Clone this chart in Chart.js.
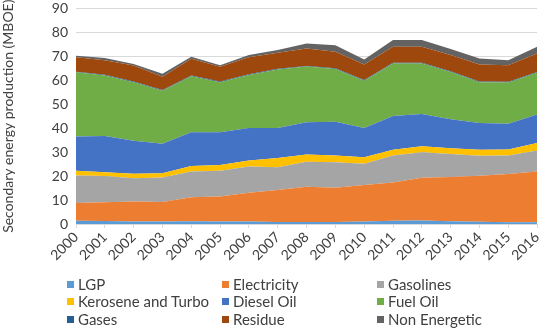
<!DOCTYPE html>
<html>
<head>
<meta charset="utf-8">
<script src="https://cdn.jsdelivr.net/npm/chart.js@4.4.1/dist/chart.umd.min.js"></script>
<style>
  html, body { margin: 0; padding: 0; background: #fff; overflow: hidden; }
  #wrap { position: relative; width: 550px; height: 329px; overflow: hidden; }
  #c { position: absolute; left: 0; top: -8px; }
  #legend { position: absolute; left: 0; top: 0; width: 550px; height: 329px; pointer-events: none;
            font-family: Lato, "Liberation Sans", sans-serif; font-size: 15px; color: #404040; }
  .item { position: absolute; display: flex; align-items: center; white-space: nowrap; }
  .box { width: 7px; height: 7px; margin-right: 4px; }
</style>
</head>
<body>
<div id="wrap">
  <canvas id="c" width="550" height="337"></canvas>
  <div id="legend"></div>
</div>
<script>
const years = ["2000","2001","2002","2003","2004","2005","2006","2007","2008","2009","2010","2011","2012","2013","2014","2015","2016"];
const seriesNames = ["LGP","Electricity","Gasolines","Kerosene and Turbo","Diesel Oil","Fuel Oil","Gases","Residue","Non Energetic"];
const lgp         = [1.4,1.3,1.0,1.0,1.1,1.0,1.0,0.8,0.8,0.8,1.0,1.4,1.5,1.2,0.9,0.7,0.7];
const electricity = [7.4,7.8,8.4,8.2,10.1,10.5,12.0,13.4,14.7,14.3,15.3,15.9,17.8,18.4,19.2,20.2,21.2];
const gasolines   = [11.4,10.9,9.7,10.2,10.7,10.7,11.0,9.5,10.5,10.7,8.8,11.3,10.7,9.6,8.4,7.7,8.8];
const kerosene    = [2.0,1.6,1.9,1.8,2.3,2.4,2.5,3.8,3.0,2.8,2.8,2.4,2.5,2.4,2.5,2.5,3.1];
const dieselOil   = [14.3,15.1,13.8,12.3,14.1,13.7,13.6,12.6,13.5,14.1,12.2,14.1,13.4,12.1,11.2,10.8,11.9];
const fuelOil     = [26.8,25.3,24.4,22.1,23.4,20.9,22.1,24.4,23.2,22.0,19.7,21.9,21.1,19.8,17.0,17.2,17.4];
const gases       = [0.3,0.3,0.3,0.3,0.3,0.3,0.3,0.3,0.3,0.3,0.3,0.3,0.3,0.3,0.3,0.3,0.3];
const residue     = [6.0,6.1,6.7,5.6,7.0,6.1,7.1,6.7,7.3,6.9,6.5,6.7,6.7,6.7,7.1,6.9,7.8];
const nonEnergetic= [0.6,0.9,0.6,1.2,0.8,0.7,0.9,1.1,2.0,2.7,2.1,2.8,2.8,2.5,2.5,2.1,2.8];
const yTicks = [0,10,20,30,40,50,60,70,80,90];

const colors = ["#5B9BD5","#ED7D31","#A5A5A5","#FFC000","#4472C4","#70AD47","#255E91","#9E480E","#636363"];
const values = [lgp, electricity, gasolines, kerosene, dieselOil, fuelOil, gases, residue, nonEnergetic];

const FONT = "Lato, 'Liberation Sans', sans-serif";

const datasets = values.map((v, i) => ({
  label: seriesNames[i],
  data: v,
  backgroundColor: colors[i],
  borderColor: colors[i],
  borderWidth: 0,
  pointRadius: 0,
  tension: 0,
  fill: i === 0 ? 'origin' : '-1'
}));

new Chart(document.getElementById('c'), {
  type: 'line',
  data: { labels: years, datasets },
  options: {
    responsive: false,
    animation: false,
    layout: { padding: { top: 0, right: 5, bottom: 62, left: 0 } },
    plugins: { legend: { display: false }, tooltip: { enabled: false } },
    scales: {
      x: {
        offset: false,
        grid: { display: true, drawOnChartArea: false, color: '#d9d9d9', tickLength: 4, drawTicks: true },
        border: { display: true, color: '#d9d9d9' },
        ticks: { color: '#404040', font: { family: FONT, size: 14 }, minRotation: 45, maxRotation: 45, autoSkip: false, padding: 1 },
        afterFit: s => { s.height = 43; }
      },
      y: {
        stacked: true,
        min: 0, max: 90,
        afterBuildTicks: s => { s.ticks = yTicks.map(v => ({ value: v })); },
        grid: { color: '#d9d9d9', drawTicks: false },
        border: { display: false },
        ticks: { color: '#404040', font: { family: FONT, size: 14 }, padding: 8 },
        title: { display: true, text: 'Secondary energy production (MBOE)', color: '#404040', font: { family: FONT, size: 14 }, padding: { top: 0, bottom: 4 } },
        afterFit: s => { s.width = 76; }
      }
    }
  }
});

// HTML legend (3 columns)
const legend = document.getElementById('legend');
const colX = [67, 222, 377];
const rowY = [284, 301, 319];
seriesNames.forEach((name, i) => {
  const d = document.createElement('div');
  d.className = 'item';
  d.style.left = colX[i % 3] + 'px';
  d.style.top = (rowY[Math.floor(i / 3)] - 9) + 'px';
  d.style.height = '18px';
  const b = document.createElement('span');
  b.className = 'box';
  b.style.background = colors[i];
  const t = document.createElement('span');
  t.textContent = name;
  d.appendChild(b); d.appendChild(t);
  legend.appendChild(d);
});
</script>
</body>
</html>
